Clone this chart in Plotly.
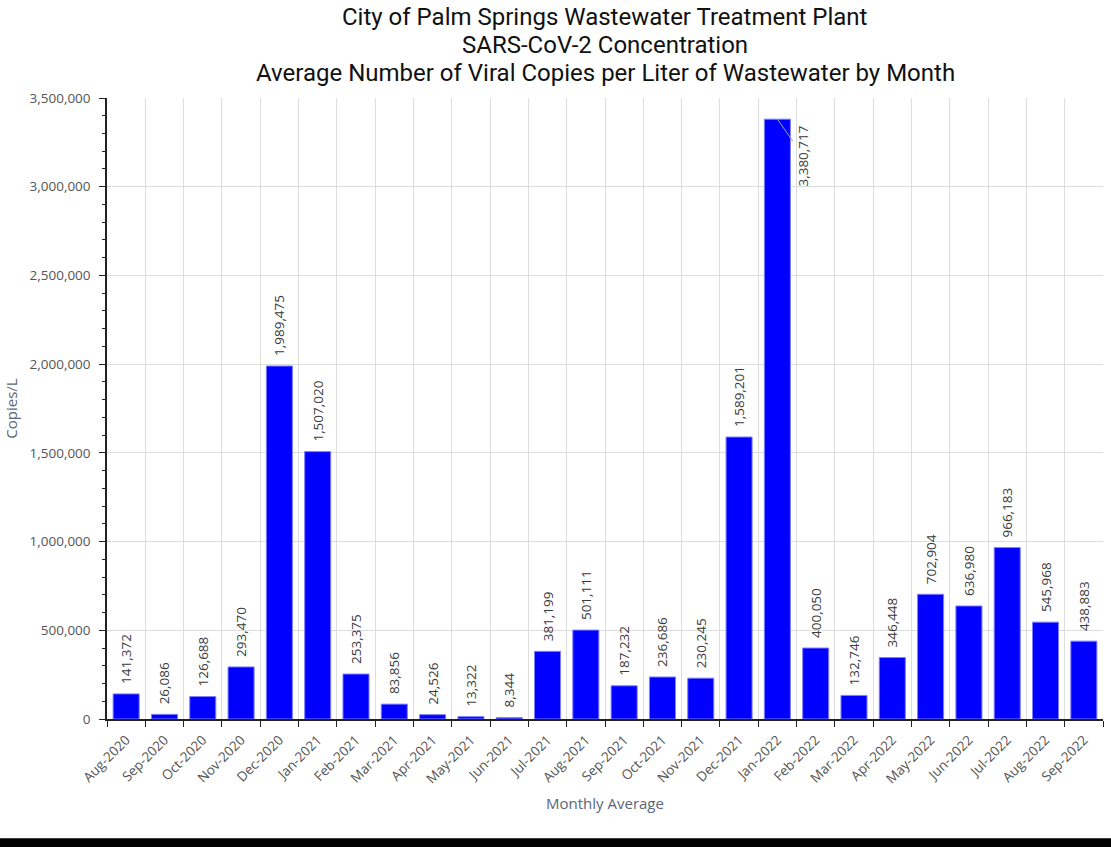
import plotly.graph_objects as go

months = ["Aug-2020", "Sep-2020", "Oct-2020", "Nov-2020", "Dec-2020", "Jan-2021", "Feb-2021",
          "Mar-2021", "Apr-2021", "May-2021", "Jun-2021", "Jul-2021", "Aug-2021", "Sep-2021",
          "Oct-2021", "Nov-2021", "Dec-2021", "Jan-2022", "Feb-2022", "Mar-2022", "Apr-2022",
          "May-2022", "Jun-2022", "Jul-2022", "Aug-2022", "Sep-2022"]
copies = [141372, 26086, 126688, 293470, 1989475, 1507020, 253375, 83856, 24526, 13322, 8344,
          381199, 501111, 187232, 236686, 230245, 1589201, 3380717, 400050, 132746, 346448,
          702904, 636980, 966183, 545968, 438883]
y_ticks = [0, 500000, 1000000, 1500000, 2000000, 2500000, 3000000, 3500000]
title_lines = ["City of Palm Springs Wastewater Treatment Plant",
               "SARS-CoV-2 Concentration",
               "Average Number of Viral Copies per Liter of Wastewater by Month"]

callout_month = "Jan-2022"
NB = "\u00a0\u00a0"
labels = ["" if m == callout_month else NB + f"{v:,}" for m, v in zip(months, copies)]

LABEL_FONT = dict(family="Open Sans", size=13.5, color="#3a3a3a")
TICK_FONT = dict(family="Open Sans", size=13.5, color="#555555")
AXT_FONT = dict(family="Open Sans", size=15, color="#5b6678")

fig = go.Figure()
fig.add_trace(go.Bar(
    x=months, y=copies,
    marker=dict(color="#0000ff", line=dict(color="#7f7fff", width=1)),
    text=labels, textposition="outside", textangle=-90, constraintext="none",
    textfont=LABEL_FONT, cliponaxis=False, hoverinfo="x+y",
))

ci = months.index(callout_month)
fig.add_annotation(
    x=months[ci], y=copies[ci], text=f"{copies[ci]:,}", textangle=-90,
    showarrow=True, arrowhead=0, arrowwidth=1, arrowcolor="#a0a0a0",
    ax=26, ay=37, standoff=0, font=LABEL_FONT,
)

# title lines (pixel y centers 17, 45, 73 -> paper coords; plot top at 98px, height 621px)
for i, line in enumerate(title_lines):
    ypix = 17 + 28 * i
    fig.add_annotation(
        text=line, xref="paper", yref="paper", x=0.5, y=1 + (98 - ypix) / 621,
        xanchor="center", yanchor="middle", showarrow=False,
        font=dict(family="Roboto", size=24, color="#111111"),
    )

fig.add_shape(type="rect", xref="paper", yref="paper", x0=-0.2, x1=1.1, y0=-0.2065, y1=-0.192,
              fillcolor="black", line=dict(width=0), layer="above")

fig.update_layout(
    width=1111, height=847,
    margin=dict(l=107, r=8, t=98, b=128, autoexpand=False),
    paper_bgcolor="white", plot_bgcolor="white",
    bargap=0.32,
    showlegend=False,
    font=dict(family="Open Sans", color="#555555"),
)
fig.update_xaxes(
    type="category", tickson="boundaries", ticks="outside", ticklen=6, tickcolor="#222222",
    showline=True, linecolor="#222222", linewidth=1.5, automargin=False,
    showgrid=True, gridcolor="#dddddd", gridwidth=1,
    tickangle=-45, tickfont=TICK_FONT, ticklabelstandoff=6,
    title=dict(text="Monthly Average", font=AXT_FONT, standoff=12),
)
fig.update_yaxes(
    range=[0, 3500000], tickvals=y_ticks, tickformat=",d",
    ticks="outside", ticklen=6, tickcolor="#222222", automargin=False,
    minor=dict(dtick=100000, ticks="outside", ticklen=3, tickcolor="#222222", showgrid=False),
    showline=True, linecolor="#222222", linewidth=1.5,
    showgrid=True, gridcolor="#dddddd", gridwidth=1, zeroline=False,
    tickfont=TICK_FONT, ticklabelstandoff=6,
    title=dict(text="Copies/L", font=AXT_FONT, standoff=8),
)

fig.write_html("out.html", config={"displayModeBar": False},
               post_script="document.body.style.margin='0px';document.body.style.overflow='hidden';")
